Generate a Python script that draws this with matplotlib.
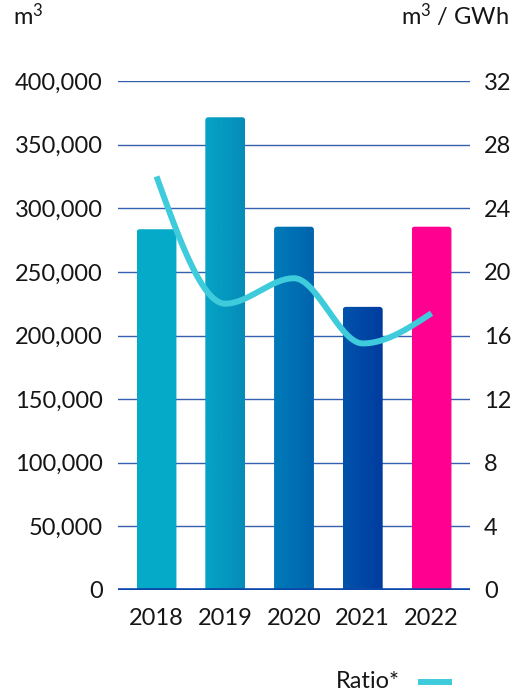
import numpy as np
import matplotlib
matplotlib.use("Agg")
import matplotlib.pyplot as plt
from matplotlib.path import Path
from matplotlib.patches import PathPatch
from matplotlib.colors import LinearSegmentedColormap
from matplotlib.ticker import FuncFormatter, MultipleLocator

plt.rcParams['font.family'] = ['Lato', 'DejaVu Sans']
plt.rcParams['mathtext.fontset'] = 'custom'
plt.rcParams['mathtext.rm'] = 'Lato'
plt.rcParams['mathtext.it'] = 'Lato:italic'
plt.rcParams['mathtext.default'] = 'regular'

years = ['2018', '2019', '2020', '2021', '2022']
volume_m3 = [283500, 371500, 285500, 222500, 285500]
ratio = [26.0, 18.0, 19.6, 15.5, 17.4]

# left/right colour of each bar's horizontal gradient
bar_colors = [('#05aac8', '#05aac8'),
              ('#05a4c6', '#058cb9'),
              ('#007bb9', '#0064ae'),
              ('#0053ab', '#003c9f'),
              ('#ff0090', '#ff0090')]

line_color = '#3ecbdb'
grid_color = '#3560b0'
base_color = '#0a47a9'
text_color = '#161616'


def monotone_curve(xs, ys, n=60):
    """Monotone cubic interpolation (d3 curveMonotoneX style)."""
    xs = np.asarray(xs, float)
    ys = np.asarray(ys, float)
    h = np.diff(xs)
    s = np.diff(ys) / h
    m = np.zeros_like(ys)
    for i in range(1, len(ys) - 1):
        p = (s[i - 1] * h[i] + s[i] * h[i - 1]) / (h[i - 1] + h[i])
        m[i] = (np.sign(s[i - 1]) + np.sign(s[i])) * min(abs(s[i - 1]), abs(s[i]), 0.5 * abs(p))
    m[0] = (3 * s[0] - m[1]) / 2
    m[-1] = (3 * s[-1] - m[-2]) / 2
    out_x, out_y = [], []
    for i in range(len(xs) - 1):
        t = np.linspace(0, 1, n)
        h00 = 2 * t**3 - 3 * t**2 + 1
        h10 = t**3 - 2 * t**2 + t
        h01 = -2 * t**3 + 3 * t**2
        h11 = t**3 - t**2
        out_x.append(xs[i] + t * h[i])
        out_y.append(h00 * ys[i] + h10 * h[i] * m[i] + h01 * ys[i + 1] + h11 * h[i] * m[i + 1])
    return np.concatenate(out_x), np.concatenate(out_y)


fig = plt.figure(figsize=(5.14, 6.97), dpi=100)
ax = fig.add_axes([118 / 514, 107 / 697, 352 / 514, 509 / 697])
ax2 = ax.twinx()

x = np.arange(len(years))
ax.set_xlim(-0.56, len(years) - 1 + 0.56)
ax.set_ylim(0, 400000)
ax2.set_ylim(0, 32)

# horizontal grid behind the bars
ax.yaxis.set_major_locator(MultipleLocator(50000))
ax.set_axisbelow(True)
ax.grid(axis='y', color=grid_color, linewidth=1.0)
ax.axhline(0, color=base_color, linewidth=2.6, zorder=3)

bars = ax.bar(x, volume_m3, width=0.58, color='none', edgecolor='none', zorder=2)

fig.canvas.draw()
inv = ax.transData.inverted()
px_x = inv.transform((3, 0))[0] - inv.transform((0, 0))[0]
px_y = inv.transform((0, 3))[1] - inv.transform((0, 0))[1]

for rect, (c0, c1) in zip(bars, bar_colors):
    x0 = rect.get_x()
    x1 = x0 + rect.get_width()
    top = rect.get_height()
    verts = [(x0, 0), (x1, 0), (x1, top - px_y), (x1, top), (x1 - px_x, top),
             (x0 + px_x, top), (x0, top), (x0, top - px_y), (x0, 0)]
    codes = [Path.MOVETO, Path.LINETO, Path.LINETO, Path.CURVE3, Path.CURVE3,
             Path.LINETO, Path.CURVE3, Path.CURVE3, Path.CLOSEPOLY]
    clip = PathPatch(Path(verts, codes), facecolor='none', edgecolor='none',
                     transform=ax.transData)
    ax.add_patch(clip)
    cmap = LinearSegmentedColormap.from_list('g', [c0, c1])
    grad = np.linspace(0, 1, 64).reshape(1, -1)
    im = ax.imshow(grad, cmap=cmap, extent=[x0, x1, 0, top], aspect='auto',
                   interpolation='bilinear', zorder=2)
    im.set_clip_path(clip)

ax.set_xlim(-0.56, len(years) - 1 + 0.56)
ax.set_ylim(0, 400000)

# ratio line on the secondary axis
cx, cy = monotone_curve(x, ratio)
ax2.plot(cx, cy, color=line_color, linewidth=4.3, solid_capstyle='butt', zorder=5)
ax2.yaxis.set_major_locator(MultipleLocator(4))

for a in (ax, ax2):
    for sp in a.spines.values():
        sp.set_visible(False)
    a.tick_params(length=0, labelsize=17, labelcolor=text_color)

ax.tick_params(axis='y', pad=11)
ax2.tick_params(axis='y', pad=10)
ax.tick_params(axis='x', pad=13)
ax.set_xticks(x)
ax.set_xticklabels(years)
ax.yaxis.set_major_formatter(FuncFormatter(lambda v, p: f'{int(v):,}'))

fig.text(13 / 514, 1 - 25 / 697, r'm$^{3}$', fontsize=17, color=text_color, ha='left', va='baseline')
fig.text(509 / 514, 1 - 25 / 697, r'm$^{3}$ / GWh', fontsize=17, color=text_color, ha='right', va='baseline')

# legend
fig.text(400 / 514, 1 - 688 / 697, 'Ratio*', fontsize=17, color=text_color, ha='right', va='baseline')
fig.add_artist(plt.Line2D([418 / 514, 452 / 514], [1 - 682 / 697, 1 - 682 / 697],
                          transform=fig.transFigure, color=line_color, linewidth=4.3,
                          solid_capstyle='butt'))

fig.savefig('out.png', dpi=100)
